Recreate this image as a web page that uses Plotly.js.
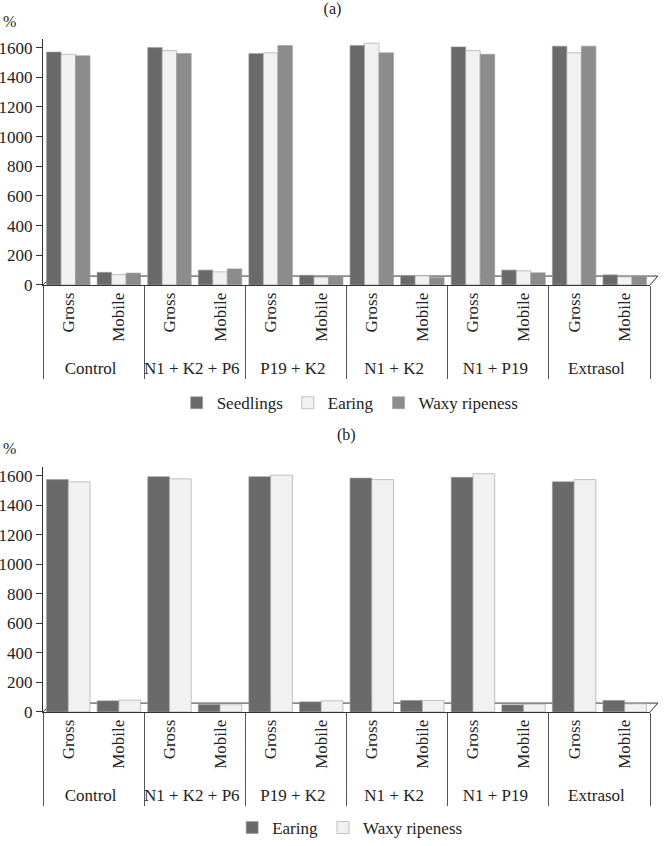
<!DOCTYPE html>
<html>
<head>
<meta charset="utf-8">
<script src="https://cdn.plot.ly/plotly-3.0.1.min.js"></script>
<style>html,body{margin:0;padding:0;background:#fff}#chart{width:665px;height:846px}</style>
</head>
<body>
<div id="chart"></div>
<script>
// Categories
const groups = ['Control', 'N1 + K2 + P6', 'P19 + K2', 'N1 + K2', 'N1 + P19', 'Extrasol'];
const forms = ['Gross', 'Mobile'];

// Panel (a) values, order: Control Gross, Control Mobile, N1+K2+P6 Gross, ...
const seedlingsA = [1570, 85, 1600, 100, 1560, 65, 1615, 62, 1605, 100, 1610, 68];
const earingA    = [1555, 70, 1580, 88, 1565, 52, 1630, 62, 1580, 95, 1565, 55];
const waxyA      = [1545, 80, 1560, 108, 1615, 60, 1565, 50, 1555, 82, 1610, 60];

// Panel (b) values
const earingB = [1575, 75, 1595, 50, 1595, 68, 1585, 78, 1590, 48, 1560, 78];
const waxyB   = [1560, 80, 1580, 48, 1605, 75, 1575, 78, 1615, 52, 1575, 55];

const yTicks = [0, 200, 400, 600, 800, 1000, 1200, 1400, 1600];

// Build multicategory x
const outer = [], inner = [];
groups.forEach(g => forms.forEach(f => { outer.push(g); inner.push(f); }));
const xMC = [outer, inner];

const FONT = 'Liberation Serif';
const DARK = '#6a6a6a', LIGHT = '#f1f1f1', MID = '#8c8c8c';
const EDGE = {color: '#9a9a9a', width: 0.6};

function bar(name, y, color, xa, ya, legend) {
  return {type: 'bar', name: name, x: xMC, y: y, xaxis: xa, yaxis: ya, legend: legend,
          marker: {color: color, line: EDGE}, hoverinfo: 'y'};
}

const data = [
  bar('Seedlings', seedlingsA, DARK, 'x', 'y', 'legend'),
  bar('Earing', earingA, LIGHT, 'x', 'y', 'legend'),
  bar('Waxy ripeness', waxyA, MID, 'x', 'y', 'legend'),
  bar('Earing', earingB, DARK, 'x2', 'y2', 'legend2'),
  bar('Waxy ripeness', waxyB, LIGHT, 'x2', 'y2', 'legend2')
];

function xAxis(anchor) {
  return {type: 'multicategory', domain: [0, 1], anchor: anchor,
          showline: true, linecolor: '#333', linewidth: 1,
          ticks: '', tickangle: -90, showdividers: true, dividercolor: '#555', dividerwidth: 1,
          tickfont: {family: FONT, size: 17, color: '#222'}, automargin: false, fixedrange: true};
}
function yAxis(anchor, dom) {
  return {domain: dom, anchor: anchor, range: [0, 1660], tickvals: yTicks,
          showgrid: false, zeroline: false, showline: true, linecolor: '#333', linewidth: 1,
          ticks: 'outside', ticklen: 6, tickcolor: '#333',
          tickfont: {family: FONT, size: 17, color: '#222'}, automargin: false, fixedrange: true};
}

function floorShapes(xr, yr) {
  const c = {color: '#333', width: 1};
  return [
    {type: 'line', xref: xr + ' domain', yref: yr + ' domain', x0: 0, y0: 0, x1: 0.015, y1: 0.036, line: c, layer: 'below'},
    {type: 'line', xref: xr + ' domain', yref: yr + ' domain', x0: 0.015, y0: 0.036, x1: 1.013, y1: 0.036, line: c, layer: 'below'},
    {type: 'line', xref: xr + ' domain', yref: yr + ' domain', x0: 1, y0: 0, x1: 1.013, y1: 0.036, line: c, layer: 'below'}
  ];
}

const layout = {
  width: 665, height: 846,
  margin: {l: 43, r: 15, t: 0, b: 0},
  paper_bgcolor: '#fff', plot_bgcolor: 'rgba(0,0,0,0)',
  font: {family: FONT, size: 17, color: '#222'},
  barmode: 'group', bargap: 0.14, bargroupgap: 0,
  title: {text: '(a)', x: 0.5, xanchor: 'center', y: 0.99, yanchor: 'middle',
          font: {family: FONT, size: 16, color: '#222'}},
  xaxis: xAxis('y'),
  yaxis: yAxis('x', [0.6608, 0.9539]),
  xaxis2: xAxis('y2'),
  yaxis2: yAxis('x2', [0.1525, 0.4440]),
  legend: {orientation: 'h', x: 0.506, xanchor: 'center', y: 0.52, yanchor: 'middle',
           font: {family: FONT, size: 17, color: '#222'}, itemwidth: 30, tracegroupgap: 0,
           traceorder: 'normal'},
  legend2: {orientation: 'h', x: 0.506, xanchor: 'center', y: 0.014, yanchor: 'middle',
            font: {family: FONT, size: 17, color: '#222'}, itemwidth: 30, traceorder: 'normal'},
  showlegend: true,
  annotations: [
    {text: '(b)', xref: 'paper', yref: 'paper', x: 0.5, y: 1 - 438/846, xanchor: 'center', yanchor: 'middle',
     showarrow: false, font: {family: FONT, size: 16, color: '#222'}},
    {text: '%', xref: 'paper', yref: 'paper', x: -0.055, y: 1 - 22/846, xanchor: 'center', yanchor: 'middle',
     showarrow: false, font: {family: FONT, size: 16, color: '#222'}},
    {text: '%', xref: 'paper', yref: 'paper', x: -0.055, y: 1 - 452/846, xanchor: 'center', yanchor: 'middle',
     showarrow: false, font: {family: FONT, size: 16, color: '#222'}}
  ],
  shapes: floorShapes('x', 'y').concat(floorShapes('x2', 'y2'))
};

Plotly.newPlot('chart', data, layout, {displayModeBar: false, staticPlot: true});
</script>
</body>
</html>
